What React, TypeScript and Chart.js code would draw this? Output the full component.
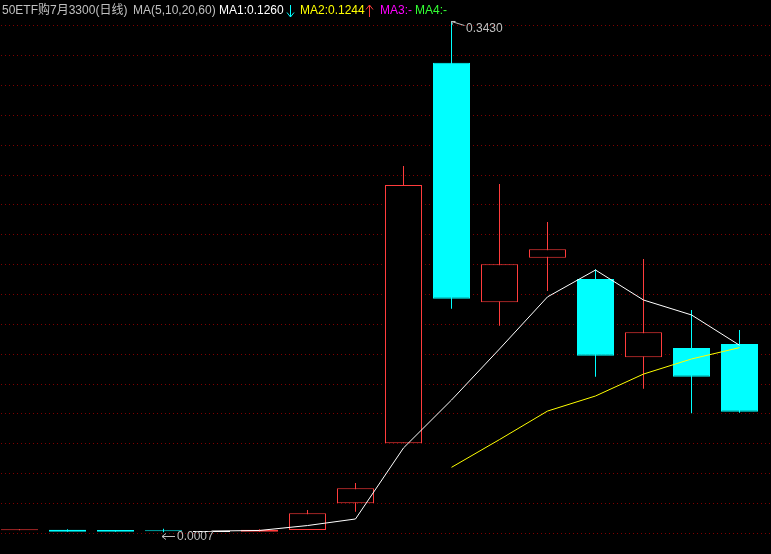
import { useEffect, useRef } from "react";
import { Chart, registerables } from "chart.js";

Chart.register(...registerables);

// ---- data ----
const days = [0, 1, 2, 3, 4, 5, 6, 7, 8, 9, 10, 11, 12, 13, 14, 15];
const openP = [0.0020, 0.0023, 0.0022, 0.0018, 0.0015, 0.0010, 0.0022, 0.0201, 0.0603, 0.3153, 0.1548, 0.1847, 0.1704, 0.1179, 0.1242, 0.1268];
const highP = [0.0027, 0.0027, 0.0022, 0.0030, 0.0015, 0.0027, 0.0156, 0.0337, 0.2461, 0.3430, 0.2340, 0.2086, 0.1769, 0.1838, 0.1496, 0.1362];
const lowP = [0.0020, 0.0010, 0.0010, 0.0007, 0.0015, 0.0010, 0.0022, 0.0145, 0.0603, 0.1505, 0.1391, 0.1623, 0.1049, 0.0969, 0.0804, 0.0808];
const closeP = [0.0022, 0.0010, 0.0010, 0.0013, 0.0015, 0.0024, 0.0134, 0.0302, 0.2334, 0.1572, 0.1802, 0.1903, 0.1190, 0.1347, 0.1049, 0.0815];

const ma1Days = [4, 5, 6, 7, 8, 9, 10, 11, 12, 13, 14, 15];
const ma1Values = [0.0015, 0.0019, 0.0052, 0.0096, 0.0572, 0.0893, 0.1235, 0.1584, 0.1764, 0.1563, 0.1463, 0.1260];
const ma2Days = [9, 10, 11, 12, 13, 14, 15];
const ma2Values = [0.0442, 0.0628, 0.0819, 0.0920, 0.1067, 0.1168, 0.1244];

const yGridTicks = [0, 0.02, 0.04, 0.06, 0.08, 0.1, 0.12, 0.14, 0.16, 0.18, 0.2, 0.22, 0.24, 0.26, 0.28, 0.3, 0.32, 0.34];

const titleText = "50ETF购7月3300(日线)";
const maText = "MA(5,10,20,60)";

// ---- styles ----
const UP = "#ff3c3c";
const DOWN = "#00ffff";
const FLAT = "#ffffff";
const GREY = "#c0c0c0";
const YELLOW = "#ffff00";
const MAGENTA = "#ff00ff";
const GREEN = "#33ff33";
const GRID = "#800000";
const FONT = "12px 'Liberation Sans', 'Noto Sans CJK SC', sans-serif";

const candleColor = (i: number) =>
  closeP[i] > openP[i] ? UP : closeP[i] < openP[i] ? DOWN : FLAT;

function drawArrow(ctx: CanvasRenderingContext2D, x: number, down: boolean, color: string) {
  ctx.strokeStyle = color;
  ctx.lineWidth = 1;
  ctx.beginPath();
  const top = 5;
  const bot = 17;
  ctx.moveTo(x + 0.5, top);
  ctx.lineTo(x + 0.5, bot);
  if (down) {
    ctx.moveTo(x - 3, bot - 4.5);
    ctx.lineTo(x + 0.5, bot);
    ctx.lineTo(x + 4, bot - 4.5);
  } else {
    ctx.moveTo(x - 3, top + 4.5);
    ctx.lineTo(x + 0.5, top);
    ctx.lineTo(x + 4, top + 4.5);
  }
  ctx.stroke();
}

const overlayPlugin = {
  id: "overlayText",
  afterDraw(chart: any) {
    const ctx = chart.ctx as CanvasRenderingContext2D;
    const xs = chart.scales.x;
    const ys = chart.scales.y;
    ctx.save();
    ctx.font = FONT;
    ctx.textBaseline = "alphabetic";
    const parts = [
      { t: titleText, x: 2, c: GREY },
      { t: maText, x: 133, c: GREY },
      { t: "MA1:" + ma1Values[ma1Values.length - 1].toFixed(4), x: 219, c: "#ffffff" },
      { t: "MA2:" + ma2Values[ma2Values.length - 1].toFixed(4), x: 300, c: YELLOW },
      { t: "MA3:-", x: 380, c: MAGENTA },
      { t: "MA4:-", x: 415, c: GREEN },
    ];
    parts.forEach((p) => {
      ctx.fillStyle = p.c;
      ctx.fillText(p.t, p.x, 14);
    });
    drawArrow(ctx, 290, true, DOWN);
    drawArrow(ctx, 369, false, UP);

    // highest high label
    let hi = 0;
    let lo = 0;
    days.forEach((d, i) => {
      if (highP[i] > highP[hi]) hi = i;
      if (lowP[i] < lowP[lo]) lo = i;
    });
    const hx = Math.floor(xs.getPixelForValue(days[hi]));
    const hy = Math.round(ys.getPixelForValue(highP[hi]));
    ctx.strokeStyle = GREY;
    ctx.lineWidth = 1;
    ctx.beginPath();
    ctx.moveTo(hx + 0.5, hy + 0.5);
    ctx.lineTo(hx + 13.5, hy + 4.5);
    ctx.moveTo(hx + 0.5, hy + 0.5);
    ctx.lineTo(hx + 4.5, hy + 0.5);
    ctx.moveTo(hx + 0.5, hy + 0.5);
    ctx.lineTo(hx + 1.5, hy + 3.5);
    ctx.stroke();
    ctx.fillStyle = GREY;
    ctx.fillText(highP[hi].toFixed(4), hx + 15, hy + 11);

    // lowest low label
    const lx = Math.floor(xs.getPixelForValue(days[lo]));
    const ly = Math.round(ys.getPixelForValue(lowP[lo]));
    const ay = ly + 4.5;
    ctx.beginPath();
    ctx.moveTo(lx - 1, ay);
    ctx.lineTo(lx + 12, ay);
    ctx.moveTo(lx + 3, ay - 3);
    ctx.lineTo(lx - 1, ay);
    ctx.lineTo(lx + 3, ay + 3);
    ctx.stroke();
    ctx.fillText(lowP[lo].toFixed(4), lx + 14, ly + 8);
    ctx.restore();
  },
};

export default function App() {
  const ref = useRef<HTMLCanvasElement | null>(null);

  useEffect(() => {
    document.body.style.margin = "0";
    document.body.style.background = "#000";
    const canvas = ref.current;
    if (!canvas) return;

    const bodies = days.map((d, i) => ({
      x: d,
      y: [Math.min(openP[i], closeP[i]), Math.max(openP[i], closeP[i])],
    }));
    const wicks = days.map((d, i) => ({ x: d, y: [lowP[i], highP[i]] }));

    const chart = new Chart(canvas, {
      type: "bar",
      data: {
        datasets: [
          {
            type: "line",
            label: "MA1",
            data: ma1Days.map((d, k) => ({ x: d, y: ma1Values[k] })),
            borderColor: "#ffffff",
            borderWidth: 1,
            pointRadius: 0,
            tension: 0,
            order: -2,
          } as any,
          {
            type: "line",
            label: "MA2",
            data: ma2Days.map((d, k) => ({ x: d, y: ma2Values[k] })),
            borderColor: YELLOW,
            borderWidth: 1,
            pointRadius: 0,
            tension: 0,
            order: -1,
          } as any,
          {
            label: "body",
            data: bodies as any,
            backgroundColor: days.map((d, i) =>
              candleColor(i) === UP ? "#000000" : candleColor(i)
            ),
            borderColor: days.map((d, i) => candleColor(i)),
            borderWidth: 1,
            borderSkipped: false,
            barThickness: 37,
            maxBarThickness: 37,
            minBarLength: 1,
            inflateAmount: 0,
            grouped: false,
            order: 1,
          } as any,
          {
            label: "wick",
            data: wicks as any,
            backgroundColor: days.map((d, i) => candleColor(i)),
            borderWidth: 0,
            barThickness: 1,
            maxBarThickness: 1,
            inflateAmount: 0,
            grouped: false,
            order: 2,
          } as any,
        ],
      },
      options: {
        responsive: false,
        animation: false,
        devicePixelRatio: 1,
        events: [],
        layout: { padding: 0 },
        plugins: {
          legend: { display: false },
          tooltip: { enabled: false },
        },
        scales: {
          x: {
            type: "linear",
            min: -0.40625,
            max: 15.65625,
            offset: false,
            bounds: "data",
            display: false,
            grid: { offset: false },
          },
          y: {
            type: "linear",
            position: "left",
            min: -0.013869,
            max: 0.35732,
            ticks: { display: false },
            grid: { color: GRID, lineWidth: 1, drawTicks: false },
            border: { display: false, dash: [1, 3], dashOffset: 3 },
            afterBuildTicks: (s: any) => {
              s.ticks = yGridTicks.map((v) => ({ value: v }));
            },
            afterFit: (s: any) => {
              s.width = 0;
            },
          },
        },
      } as any,
      plugins: [overlayPlugin],
    });

    return () => chart.destroy();
  }, []);

  return (
    <canvas
      ref={ref}
      width={771}
      height={554}
      style={{ display: "block", width: 771, height: 554, background: "#000" }}
    />
  );
}
